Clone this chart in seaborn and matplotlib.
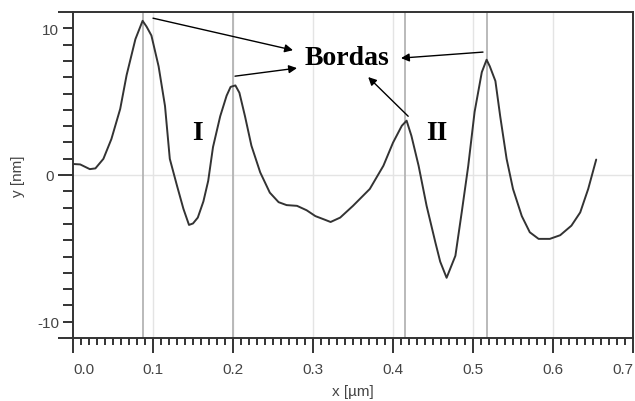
import numpy as np
import pandas as pd
import matplotlib
matplotlib.use('Agg')
import matplotlib.pyplot as plt
import seaborn as sns

# Profile data
x_um = [0.000, 0.009, 0.021, 0.028, 0.038, 0.048, 0.059, 0.067, 0.078, 0.087,
        0.092, 0.098, 0.107, 0.115, 0.121, 0.130, 0.138, 0.145, 0.150, 0.156,
        0.163, 0.169, 0.175, 0.184, 0.192, 0.197, 0.203, 0.208, 0.215, 0.223,
        0.234, 0.246, 0.257, 0.267, 0.280, 0.292, 0.303, 0.315, 0.322, 0.334,
        0.350, 0.371, 0.388, 0.400, 0.411, 0.417, 0.423, 0.432, 0.442, 0.453,
        0.459, 0.467, 0.478, 0.486, 0.494, 0.502, 0.511, 0.517, 0.521, 0.528,
        0.534, 0.542, 0.550, 0.561, 0.571, 0.582, 0.596, 0.609, 0.623, 0.634,
        0.644, 0.654]
y_nm = [0.75, 0.72, 0.40, 0.45, 1.10, 2.45, 4.50, 6.80, 9.25, 10.5,
        10.1, 9.50, 7.40, 4.70, 1.10, -0.73, -2.30, -3.40, -3.30, -2.90,
        -1.80, -0.40, 1.90, 4.00, 5.40, 6.00, 6.10, 5.60, 4.00, 2.00,
        0.18, -1.20, -1.85, -2.05, -2.10, -2.40, -2.80, -3.05, -3.20, -2.90,
        -2.10, -0.95, 0.63, 2.20, 3.35, 3.70, 2.67, 0.63, -2.10, -4.60,
        -5.90, -7.00, -5.50, -2.50, 0.60, 4.30, 7.00, 7.85, 7.40, 6.40,
        4.00, 1.10, -0.95, -2.80, -3.90, -4.35, -4.35, -4.10, -3.45, -2.55,
        -0.95, 1.05]

# edge ("Bordas") marker positions
edge_x = [0.087, 0.200, 0.415, 0.517]

# arrows: (tail x, tail y, head x, head y)
arrows = [(0.100, 10.68, 0.275, 8.50),
          (0.2025, 6.73, 0.280, 7.28),
          (0.5125, 8.37, 0.410, 7.96),
          (0.419, 4.00, 0.369, 6.67)]

x_ticks = [0.0, 0.1, 0.2, 0.3, 0.4, 0.5, 0.6, 0.7]
x_labels = ['0.0', '0.1', '0.2', '0.3', '0.4', '0.5', '0.6', '0.7']

df = pd.DataFrame({'x': x_um, 'y': y_nm})

sns.set_theme(style='white')
plt.rcParams['font.family'] = ['Liberation Sans', 'DejaVu Sans']

fig = plt.figure(figsize=(6.35, 4.02), dpi=100)
ax = fig.add_axes([73 / 635, 1 - 339 / 402, 560 / 635, 326 / 402])

ylo, yhi = -11.1, 11.1

# light grid
for gx in x_ticks[1:-1]:
    ax.axvline(gx, color='#e4e4e4', lw=1.0, zorder=0)
ax.axhline(0, color='#e4e4e4', lw=1.0, zorder=0)
for ex in edge_x:
    ax.axvline(ex, color='#b4b4b4', lw=1.3, zorder=1)

sns.lineplot(data=df, x='x', y='y', ax=ax, color='#333333', lw=1.4,
             estimator=None, sort=False, zorder=3)

ax.set_xlim(0, 0.7)
ax.set_ylim(ylo, yhi)

# ticks
ax.set_xticks(x_ticks)
ax.set_xticklabels(x_labels)
ax.set_xticks(np.arange(0, 0.701, 0.01), minor=True)
xt = ax.get_xticklabels()
xt[0].set_ha('left')
xt[-1].set_ha('right')

ax.set_yticks([ylo, 0, yhi])
ax.set_yticklabels(['', '0', ''])
ymin_pos = np.linspace(ylo, yhi, 21)
ymin_lab = ['' for _ in ymin_pos]
ymin_lab[1] = '-10'
ymin_lab[19] = '10'
ax.set_yticks(ymin_pos, minor=True)
ax.set_yticklabels(ymin_lab, minor=True)

ax.tick_params(axis='both', which='both', direction='out', color='#333333',
               width=1.4, labelsize=11, labelcolor='#444444')
ax.tick_params(axis='x', which='major', length=11, pad=6)
ax.tick_params(axis='x', which='minor', length=5)
ax.tick_params(axis='y', which='major', length=11, pad=3)
ax.tick_params(axis='y', which='minor', length=7, pad=3)
ax.tick_params(left=True, bottom=True, which='both')

for s in ax.spines.values():
    s.set_color('#333333')
    s.set_linewidth(1.4)

ax.set_xlabel('x [µm]', fontsize=11, color='#444444', labelpad=6)
ax.set_ylabel('y [nm]', fontsize=11, color='#444444', labelpad=9)

# annotations
for tx, ty, hx, hy in arrows:
    ax.annotate('', xy=(hx, hy), xytext=(tx, ty),
                arrowprops=dict(arrowstyle='-|>', color='black', lw=1.0,
                                mutation_scale=12, shrinkA=0, shrinkB=0))
serif = dict(family=['Liberation Serif', 'DejaVu Serif'], weight='bold',
             color='black', ha='center', va='center')
ax.text(0.342, 8.0, 'Bordas', fontsize=20, **serif)
ax.text(0.155, 2.9, 'I', fontsize=20, **serif)
ax.text(0.455, 2.9, 'II', fontsize=20, **serif)

fig.savefig('out.png', dpi=100)
